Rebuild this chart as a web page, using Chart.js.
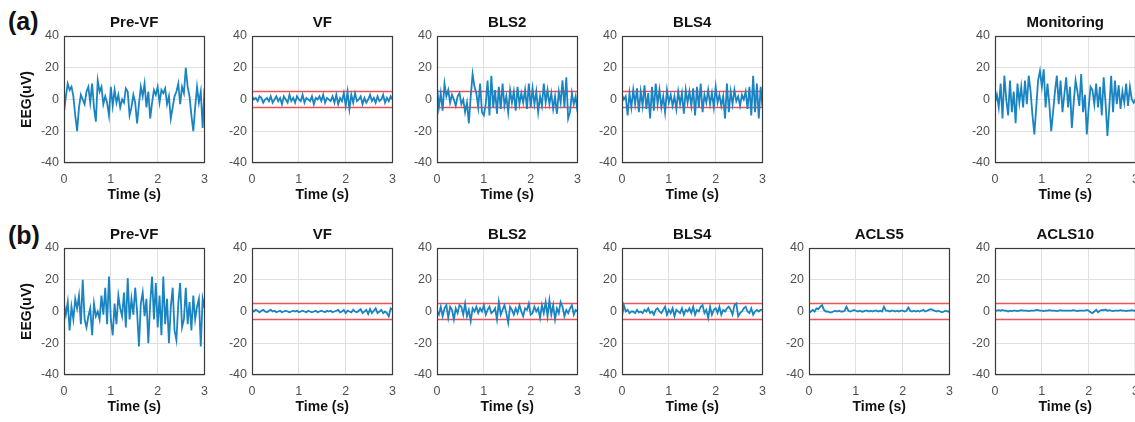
<!DOCTYPE html>
<html>
<head>
<meta charset="utf-8">
<script src="https://cdn.jsdelivr.net/npm/chart.js@4.4.0/dist/chart.umd.min.js"></script>
<style>
body{margin:0;width:1135px;height:422px;overflow:hidden;background:#fff;position:relative;font-family:"Liberation Sans",Arial,sans-serif}
canvas{position:absolute}
.tag{position:absolute;font-weight:bold;font-size:25px;color:#111}
</style>
</head>
<body>
<div class="tag" style="left:8px;top:7px">(a)</div>
<div class="tag" style="left:8px;top:221px">(b)</div>
<script>
// tick values and thresholds
const timeTicks = [0, 1, 2, 3];
const eegTicks = [-40, -20, 0, 20, 40];
const threshold = [5, -5];

// row (a) traces, uV, sampled evenly over 0..3 s
const preVFa = [-8,2,10,6,8,2,-10,-20,-5,3,0,-3,5,8,-2,10,-5,-14,12,5,8,-3,2,-2,-10,8,-4,6,-2,3,-5,0,-2,7,5,-10,-5,3,-2,-15,-3,8,2,10,-5,5,-12,-2,6,3,8,-2,6,4,7,-3,2,-12,-5,2,5,10,-3,8,4,20,8,2,-10,-20,-5,8,-2,5,-18,7];
const vfA = [2,0,1,-1,2,1,-2,0,1,-1,2,-2,0,2,-1,1,-3,2,0,-2,3,-1,1,-2,2,0,-1,3,-2,1,0,-1,2,-3,1,0,2,-1,3,-2,1,0,-1,2,-2,3,-3,1,-1,4,-4,5,-6,3,-2,4,-1,0,2,-3,1,-2,0,3,-1,1,-2,2,-1,0,3,-2,1,-1,2,0];
const bls2a = [8,-5,4,-7,10,2,6,-2,3,0,-4,2,4,-3,0,-8,-2,-15,2,16,8,4,-5,10,-8,-10,-3,12,-10,15,-5,6,-9,8,-6,10,-4,2,-8,6,-2,5,-7,8,-3,4,-2,6,-6,10,-5,7,-3,5,-8,2,-4,10,-2,6,-3,4,-6,2,-9,5,-2,12,-5,14,-12,-8,4,-3,2,-8];
const bls4a = [3,0,2,-10,4,-5,6,-3,7,-8,5,-4,9,-6,4,-12,8,-7,10,-3,6,-5,2,-8,6,-2,3,-4,2,-6,5,-3,4,-9,6,-2,5,-4,7,-10,8,-5,10,-8,3,-2,6,-3,4,-5,8,-2,3,-4,2,-12,10,-8,5,-3,6,-1,2,-4,3,0,5,-6,8,-10,15,-8,10,-12,8,-5];
const monitoringA = [-2,3,-5,10,-12,15,0,-10,12,-8,5,-15,10,-2,8,-5,12,-3,15,5,-10,-22,-5,12,18,8,19,-5,10,-3,-20,-8,5,15,-3,12,-8,3,14,-5,8,-18,-2,12,5,-4,16,-8,3,-22,-5,8,6,-3,10,-5,8,-10,14,-2,-23,-5,15,-8,12,-3,9,-6,5,-2,10,-4,8,0,-2,0];

// row (b) traces
const preVFb = [5,-2,6,-12,3,-5,8,2,10,-8,20,-5,-10,-3,2,-15,5,-3,0,-5,10,-2,15,-8,22,-5,-15,5,-8,10,2,-3,12,-10,21,-5,8,-2,15,0,-22,5,12,-3,8,-20,5,22,-5,18,-10,10,-15,22,-8,8,-20,3,15,-12,-18,5,18,-10,-5,15,-8,6,-12,10,-5,3,8,-22,8,2];
const vfB = [1,0,1,0.5,-0.5,0.5,1,0,-0.5,0.5,1,0,0.5,-0.5,0,0.5,-0.5,0,0.5,0,-0.5,0,0.5,0,0.5,-0.5,0,0.5,0,-0.5,0.5,0,-0.5,0,0.5,-0.5,0,0.5,0,-0.5,0.5,0,0.5,-0.5,0,0.5,1,-0.5,0,1,-1,0.5,0,-0.5,1,0,-0.5,0.5,1.5,-1,0,1,-1.5,1.5,-1,0.5,2,-1,0,1,-1,0,-1,-3,2,1];
const bls2b = [0,-2,3,-3,2,4,-4,3,1,-5,2,-1,4,3,-2,5,-3,1,-6,2,0,3,-1,2,0,4,-2,1,3,-1,0,2,-5,6,-2,1,4,-1,-7,3,1,-2,2,-1,4,0,-3,2,1,5,-2,-1,3,0,2,-4,4,-1,6,-3,7,-2,4,-5,2,-1,6,3,-3,1,-1,2,4,-2,1,0];
const bls4b = [-3,4,0,1,-1,0,0,-1,1,-0.5,0,-1,1,0,2,-1,0,-2,1,2,0,-1,1,3,-2,1,-1,2,-3,1,0,-1,2,-2,1,0,2,-1,3,-2,1,0,3,4,-1,1,-4,3,-2,1,2,-1,3,-2,1,0,2,3,1,-2,4,5,-3,-1,0,2,3,0,-1,2,-2,0,1,0,1,1];
const acls5b = [-1,0,1,0,2,1.5,3,4,1,0,0,-0.5,-0.5,0,0.5,0,0.5,0,0,0.5,3,0.5,0,0.5,1,0.5,0,0.5,0,0,0.5,0.5,0,0.5,0,0.5,0.5,0,0.5,0,3,0.5,0.5,0,0.5,0.5,0,0.5,0,0.5,0.5,0,0.5,2.5,0.5,0,0.5,0,0.5,0,0.5,1,0,0.5,1,1.5,1,0.5,0,0.5,0,-0.5,0,0.5,0,0];
const acls10b = [0.5,0.5,0.8,0.5,1,0.5,0.5,0,0.5,0.3,0.5,0.5,0.2,0.5,0.8,0.5,0.5,0.5,0.3,0.5,0.5,0.5,1,0.8,0.5,0.5,0.3,0.5,0.5,0.8,0.5,0.5,0.5,0.3,0.5,0.8,0.5,0.5,0.5,0.5,0.5,0.5,0.8,0.5,0.3,0.5,0.5,0.5,0.5,1,0.5,-0.5,-1,0,1,-0.5,0.5,1,0.8,1.2,0.5,0.8,0.5,0.3,0.5,0.5,0.5,0.8,0.5,0.5,0.3,0.5,0.5,0.8,0.5,0.5];

const panels = [
  {title:'Pre-VF', vals:preVFa, red:false, left:64, top:36, first:true},
  {title:'VF', vals:vfA, red:true, left:251.5, top:36},
  {title:'BLS2', vals:bls2a, red:true, left:436.5, top:36},
  {title:'BLS4', vals:bls4a, red:true, left:622, top:36},
  {title:'Monitoring', vals:monitoringA, red:false, left:995, top:36},
  {title:'Pre-VF', vals:preVFb, red:false, left:64, top:248, first:true},
  {title:'VF', vals:vfB, red:true, left:251.5, top:248},
  {title:'BLS2', vals:bls2b, red:true, left:436.5, top:248},
  {title:'BLS4', vals:bls4b, red:true, left:622, top:248},
  {title:'ACLS5', vals:acls5b, red:true, left:808.5, top:248},
  {title:'ACLS10', vals:acls10b, red:true, left:995, top:248}
];

const PW = 141, PH = 127, TOPPAD = 30, XAXIS_H = 46;
const fontFam = '"Liberation Sans", Arial, sans-serif';

// frame + panel title
const panelFrame = {
  id:'panelFrame',
  afterDatasetsDraw(chart, args, opts){
    const a = chart.chartArea, c = chart.ctx;
    c.save();
    c.strokeStyle = '#3a3a3a'; c.lineWidth = 1.2;
    c.strokeRect(Math.round(a.left)+0.5, Math.round(a.top)+0.5, Math.round(a.width)-1, Math.round(a.height)-1);
    c.fillStyle = '#111';
    c.font = 'bold 15px ' + fontFam;
    c.textAlign = 'center'; c.textBaseline = 'middle';
    c.fillText(opts.text, (a.left+a.right)/2, a.top-13);
    c.restore();
  }
};

panels.forEach(p=>{
  const yw = p.first ? 64 : 40;
  const cv = document.createElement('canvas');
  cv.width = yw + PW + 12;
  cv.height = TOPPAD + PH + XAXIS_H;
  cv.style.left = (p.left - yw) + 'px';
  cv.style.top = (p.top - TOPPAD) + 'px';
  document.body.appendChild(cv);

  const n = p.vals.length;
  const ds = [{
    data: p.vals.map((v,i)=>({x: i*3/(n-1), y: v})),
    borderColor:'#1a84c2', borderWidth:1.8, pointRadius:0, tension:0
  }];
  if (p.red) threshold.forEach(t=>ds.push({
    data:[{x:timeTicks[0], y:t},{x:timeTicks[timeTicks.length-1], y:t}],
    borderColor:'#f0525a', borderWidth:1.5, pointRadius:0
  }));

  new Chart(cv,{
    type:'line',
    data:{datasets:ds},
    options:{
      responsive:false, animation:false,
      layout:{padding:{top:TOPPAD, right:12, left:0, bottom:0}},
      plugins:{legend:{display:false}, tooltip:{enabled:false}, panelFrame:{text:p.title}},
      scales:{
        x:{type:'linear', min:0, max:3,
           afterBuildTicks:s=>{s.ticks = timeTicks.map(v=>({value:v}));},
           ticks:{color:'#505050', font:{size:12.5, family:fontFam}, padding:9, maxRotation:0},
           grid:{color:'#e0e0e0', drawTicks:false},
           border:{display:false},
           title:{display:true, text:'Time (s)', color:'#111', font:{size:14, weight:'bold', family:fontFam}, padding:{top:0, bottom:5}},
           afterFit:s=>{s.height = XAXIS_H;}},
        y:{min:-40, max:40,
           afterBuildTicks:s=>{s.ticks = eegTicks.map(v=>({value:v}));},
           ticks:{color:'#505050', font:{size:12.5, family:fontFam}, padding:5},
           grid:{color:'#e0e0e0', drawTicks:false},
           border:{display:false},
           title:{display:!!p.first, text:'EEG(uV)', color:'#111', font:{size:14, weight:'bold', family:fontFam}, padding:{top:19, bottom:0}},
           afterFit:s=>{s.width = yw;}}
      }
    },
    plugins:[panelFrame]
  });
});
</script>
</body>
</html>
